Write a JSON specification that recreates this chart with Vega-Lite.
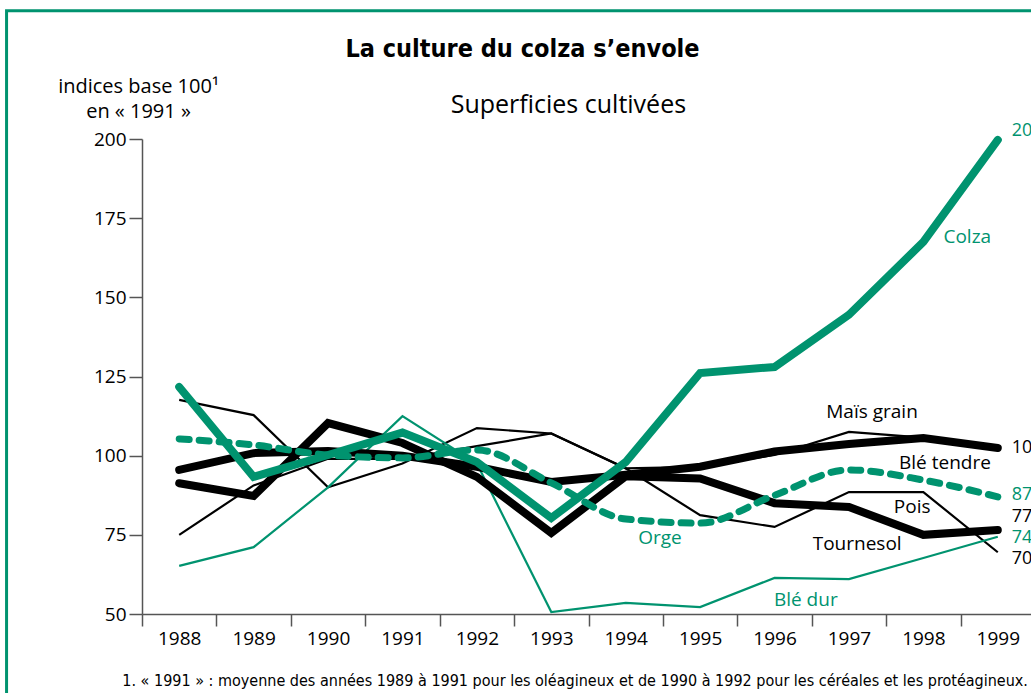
{
  "$schema": "https://vega.github.io/schema/vega-lite/v6.json",
  "width": 893,
  "height": 475,
  "autosize": {"type": "none"},
  "padding": {"left": 142, "top": 139, "right": 0, "bottom": 80},
  "background": "white",
  "config": {
    "view": {"stroke": null},
    "axis": {"grid": false}
  },
  "datasets": {
    "series": [
      {"serie": "Colza", "annee": 1988, "valeur": 121.7},
      {"serie": "Colza", "annee": 1989, "valeur": 93.3},
      {"serie": "Colza", "annee": 1990, "valeur": 100.2},
      {"serie": "Colza", "annee": 1991, "valeur": 107.3},
      {"serie": "Colza", "annee": 1992, "valeur": 98},
      {"serie": "Colza", "annee": 1993, "valeur": 80.3},
      {"serie": "Colza", "annee": 1994, "valeur": 98},
      {"serie": "Colza", "annee": 1995, "valeur": 126.1},
      {"serie": "Colza", "annee": 1996, "valeur": 128},
      {"serie": "Colza", "annee": 1997, "valeur": 144.5},
      {"serie": "Colza", "annee": 1998, "valeur": 167.5},
      {"serie": "Colza", "annee": 1999, "valeur": 199.7},
      {"serie": "Orge", "annee": 1988, "valeur": 105.3},
      {"serie": "Orge", "annee": 1989, "valeur": 103.4},
      {"serie": "Orge", "annee": 1990, "valeur": 100.2},
      {"serie": "Orge", "annee": 1991, "valeur": 99.3},
      {"serie": "Orge", "annee": 1992, "valeur": 101.8},
      {"serie": "Orge", "annee": 1993, "valeur": 91.4},
      {"serie": "Orge", "annee": 1994, "valeur": 80},
      {"serie": "Orge", "annee": 1995, "valeur": 78.7},
      {"serie": "Orge", "annee": 1996, "valeur": 87.5},
      {"serie": "Orge", "annee": 1997, "valeur": 95.5},
      {"serie": "Orge", "annee": 1998, "valeur": 92.3},
      {"serie": "Orge", "annee": 1999, "valeur": 87},
      {"serie": "Blé dur", "annee": 1988, "valeur": 65.2},
      {"serie": "Blé dur", "annee": 1989, "valeur": 71.1},
      {"serie": "Blé dur", "annee": 1990, "valeur": 90},
      {"serie": "Blé dur", "annee": 1991, "valeur": 112.5},
      {"serie": "Blé dur", "annee": 1992, "valeur": 97.5},
      {"serie": "Blé dur", "annee": 1993, "valeur": 50.6},
      {"serie": "Blé dur", "annee": 1994, "valeur": 53.5},
      {"serie": "Blé dur", "annee": 1995, "valeur": 52.2},
      {"serie": "Blé dur", "annee": 1996, "valeur": 61.4},
      {"serie": "Blé dur", "annee": 1997, "valeur": 61},
      {"serie": "Blé dur", "annee": 1998, "valeur": 67.7},
      {"serie": "Blé dur", "annee": 1999, "valeur": 74.4},
      {"serie": "Maïs grain", "annee": 1988, "valeur": 95.5},
      {"serie": "Maïs grain", "annee": 1989, "valeur": 100.8},
      {"serie": "Maïs grain", "annee": 1990, "valeur": 101.5},
      {"serie": "Maïs grain", "annee": 1991, "valeur": 100},
      {"serie": "Maïs grain", "annee": 1992, "valeur": 96.5},
      {"serie": "Maïs grain", "annee": 1993, "valeur": 91.7},
      {"serie": "Maïs grain", "annee": 1994, "valeur": 94},
      {"serie": "Maïs grain", "annee": 1995, "valeur": 96.5},
      {"serie": "Maïs grain", "annee": 1996, "valeur": 101.3},
      {"serie": "Maïs grain", "annee": 1997, "valeur": 103.7},
      {"serie": "Maïs grain", "annee": 1998, "valeur": 105.6},
      {"serie": "Maïs grain", "annee": 1999, "valeur": 102.4},
      {"serie": "Blé tendre", "annee": 1988, "valeur": 75},
      {"serie": "Blé tendre", "annee": 1989, "valeur": 90.6},
      {"serie": "Blé tendre", "annee": 1990, "valeur": 99},
      {"serie": "Blé tendre", "annee": 1991, "valeur": 99},
      {"serie": "Blé tendre", "annee": 1992, "valeur": 103},
      {"serie": "Blé tendre", "annee": 1993, "valeur": 107},
      {"serie": "Blé tendre", "annee": 1994, "valeur": 96},
      {"serie": "Blé tendre", "annee": 1995, "valeur": 96.5},
      {"serie": "Blé tendre", "annee": 1996, "valeur": 100.2},
      {"serie": "Blé tendre", "annee": 1997, "valeur": 107.5},
      {"serie": "Blé tendre", "annee": 1998, "valeur": 105.7},
      {"serie": "Blé tendre", "annee": 1999, "valeur": 102},
      {"serie": "Pois", "annee": 1988, "valeur": 117.6},
      {"serie": "Pois", "annee": 1989, "valeur": 112.8},
      {"serie": "Pois", "annee": 1990, "valeur": 90},
      {"serie": "Pois", "annee": 1991, "valeur": 97.5},
      {"serie": "Pois", "annee": 1992, "valeur": 108.7},
      {"serie": "Pois", "annee": 1993, "valeur": 107},
      {"serie": "Pois", "annee": 1994, "valeur": 96},
      {"serie": "Pois", "annee": 1995, "valeur": 81.2},
      {"serie": "Pois", "annee": 1996, "valeur": 77.5},
      {"serie": "Pois", "annee": 1997, "valeur": 88.5},
      {"serie": "Pois", "annee": 1998, "valeur": 88.5},
      {"serie": "Pois", "annee": 1999, "valeur": 69.5},
      {"serie": "Tournesol", "annee": 1988, "valeur": 91.3},
      {"serie": "Tournesol", "annee": 1989, "valeur": 87.3},
      {"serie": "Tournesol", "annee": 1990, "valeur": 110.3},
      {"serie": "Tournesol", "annee": 1991, "valeur": 104},
      {"serie": "Tournesol", "annee": 1992, "valeur": 93.3},
      {"serie": "Tournesol", "annee": 1993, "valeur": 75.6},
      {"serie": "Tournesol", "annee": 1994, "valeur": 93.5},
      {"serie": "Tournesol", "annee": 1995, "valeur": 92.8},
      {"serie": "Tournesol", "annee": 1996, "valeur": 85},
      {"serie": "Tournesol", "annee": 1997, "valeur": 83.8},
      {"serie": "Tournesol", "annee": 1998, "valeur": 75},
      {"serie": "Tournesol", "annee": 1999, "valeur": 76.5}
    ],
    "etiquettes": [
      {"serie": "Colza", "genre": "nom", "annee": 1998.59, "valeur": 169, "texte": "Colza"},
      {"serie": "Orge", "genre": "nom", "annee": 1994.46, "valeur": 74, "texte": "Orge"},
      {"serie": "Blé dur", "genre": "nom", "annee": 1996.42, "valeur": 54.4, "texte": "Blé dur"},
      {"serie": "Maïs grain", "genre": "nom", "annee": 1997.31, "valeur": 113.7, "texte": "Maïs grain"},
      {"serie": "Blé tendre", "genre": "nom", "annee": 1998.29, "valeur": 97.7, "texte": "Blé tendre"},
      {"serie": "Pois", "genre": "nom", "annee": 1997.85, "valeur": 83.8, "texte": "Pois"},
      {"serie": "Tournesol", "genre": "nom", "annee": 1997.11, "valeur": 72.1, "texte": "Tournesol"},
      {"serie": "Colza", "genre": "fin", "annee": 1999, "valeur": 202.5, "texte": "200"},
      {"serie": "Maïs grain", "genre": "fin", "annee": 1999, "valeur": 102.4, "texte": "102"},
      {"serie": "Orge", "genre": "fin", "annee": 1999, "valeur": 87.6, "texte": "87"},
      {"serie": "Tournesol", "genre": "fin", "annee": 1999, "valeur": 80.5, "texte": "77"},
      {"serie": "Blé dur", "genre": "fin", "annee": 1999, "valeur": 74, "texte": "74"},
      {"serie": "Pois", "genre": "fin", "annee": 1999, "valeur": 67.3, "texte": "70"}
    ],
    "cadre": [{"gauche": 1985.68, "droite": 2003, "haut": 240.5, "bas": 0}]
  },
  "encoding": {
    "x": {
      "field": "annee",
      "type": "quantitative",
      "scale": {"domain": [1987.5, 1999.5], "nice": false, "zero": false},
      "axis": {
        "values": [1987.5, 1988, 1988.5, 1989, 1989.5, 1990, 1990.5, 1991, 1991.5, 1992, 1992.5, 1993, 1993.5, 1994, 1994.5, 1995, 1995.5, 1996, 1996.5, 1997, 1997.5, 1998, 1998.5, 1999, 1999.5],
        "labelExpr": "datum.value % 1 == 0 ? toString(datum.value) : ''",
        "labelOverlap": false,
        "labelFlush": false,
        "labelBound": false,
        "labelFont": "Open Sans",
        "labelFontSize": 19,
        "labelColor": "black",
        "labelPadding": 3,
        "tickSize": 12,
        "tickWidth": 1.5,
        "tickColor": "#555555",
        "tickOpacity": {"condition": {"test": "datum.value % 1 == 0", "value": 0}, "value": 1},
        "domainColor": "#555555",
        "domainWidth": 1.5,
        "title": "La culture du colza s’envole",
        "titleFont": "'DejaVu Sans Condensed', 'Liberation Sans Narrow', 'Open Sans', sans-serif",
        "titleFontSize": 25,
        "titleFontWeight": "bold",
        "titleColor": "black",
        "titleX": 380,
        "titleY": -558,
        "titleAlign": "center",
        "titleBaseline": "alphabetic",
        "titleAngle": 0
      }
    },
    "y": {
      "field": "valeur",
      "type": "quantitative",
      "scale": {"domain": [50, 200], "nice": false, "zero": false},
      "axis": {
        "values": [50, 75, 100, 125, 150, 175, 200],
        "labelFont": "Open Sans",
        "labelFontSize": 19,
        "labelColor": "black",
        "labelPadding": 3,
        "tickSize": 13,
        "tickWidth": 1.5,
        "tickColor": "#555555",
        "domainColor": "#555555",
        "domainWidth": 1.5,
        "title": ["indices base 100¹", "en « 1991 »"],
        "titleFont": "Open Sans",
        "titleFontSize": 20,
        "titleFontWeight": "normal",
        "titleColor": "black",
        "titleLineHeight": 25,
        "titleX": -4,
        "titleY": -47,
        "titleAlign": "center",
        "titleBaseline": "alphabetic",
        "titleAngle": 0
      }
    },
    "color": {
      "field": "serie",
      "type": "nominal",
      "scale": {
        "domain": ["Colza", "Orge", "Blé dur", "Maïs grain", "Blé tendre", "Pois", "Tournesol"],
        "range": ["#00936f", "#00936f", "#00936f", "#000000", "#000000", "#000000", "#000000"]
      },
      "legend": null
    }
  },
  "layer": [
    {
      "data": {"name": "cadre"},
      "mark": {"type": "rect", "fill": "transparent", "stroke": "#00936f", "strokeWidth": 3},
      "encoding": {
        "x": {"field": "gauche", "type": "quantitative"},
        "x2": {"field": "droite"},
        "y": {"field": "haut", "type": "quantitative"},
        "y2": {"field": "bas"},
        "color": {"value": "#00936f"}
      }
    },
    {
      "data": {"name": "series"},
      "transform": [{"filter": "datum.serie == 'Blé tendre' || datum.serie == 'Pois'"}],
      "mark": {"type": "line", "strokeWidth": 2.2, "strokeJoin": "miter"}
    },
    {
      "data": {"name": "series"},
      "transform": [{"filter": "datum.serie == 'Blé dur'"}],
      "mark": {"type": "line", "strokeWidth": 2.2, "strokeJoin": "miter"}
    },
    {
      "data": {"name": "series"},
      "transform": [{"filter": "datum.serie == 'Maïs grain' || datum.serie == 'Tournesol'"}],
      "mark": {"type": "line", "strokeWidth": 8, "strokeJoin": "miter", "strokeCap": "round"}
    },
    {
      "data": {"name": "series"},
      "transform": [{"filter": "datum.serie == 'Orge'"}],
      "mark": {"type": "line", "strokeWidth": 7, "strokeDash": [10, 10], "strokeCap": "round", "interpolate": "monotone"}
    },
    {
      "data": {"name": "series"},
      "transform": [{"filter": "datum.serie == 'Colza'"}],
      "mark": {"type": "line", "strokeWidth": 8, "strokeJoin": "miter", "strokeCap": "round"}
    },
    {
      "data": {"name": "etiquettes"},
      "transform": [{"filter": "datum.genre == 'nom'"}],
      "mark": {"type": "text", "font": "Open Sans", "fontSize": 19, "align": "center", "baseline": "middle"},
      "encoding": {"text": {"field": "texte"}}
    },
    {
      "data": {"name": "etiquettes"},
      "transform": [{"filter": "datum.genre == 'fin'"}],
      "mark": {"type": "text", "font": "Open Sans", "fontSize": 18, "align": "left", "baseline": "middle", "dx": 14},
      "encoding": {"text": {"field": "texte"}}
    },
    {
      "data": {"values": [{"annee": 1993.23, "valeur": 210.7, "texte": "Superficies cultivées"}]},
      "mark": {"type": "text", "font": "Open Sans", "fontSize": 25, "align": "center", "baseline": "middle"},
      "encoding": {
        "text": {"field": "texte"},
        "color": {"value": "black"}
      }
    },
    {
      "data": {"values": [{"annee": 1993.32, "valeur": 28.8, "texte": "1. « 1991 » : moyenne des années 1989 à 1991 pour les oléagineux et de 1990 à 1992 pour les céréales et les protéagineux."}]},
      "mark": {"type": "text", "font": "'DejaVu Sans Condensed', 'Liberation Sans Narrow', 'Open Sans', sans-serif", "fontSize": 16, "align": "center", "baseline": "middle"},
      "encoding": {
        "text": {"field": "texte"},
        "color": {"value": "black"}
      }
    }
  ]
}
